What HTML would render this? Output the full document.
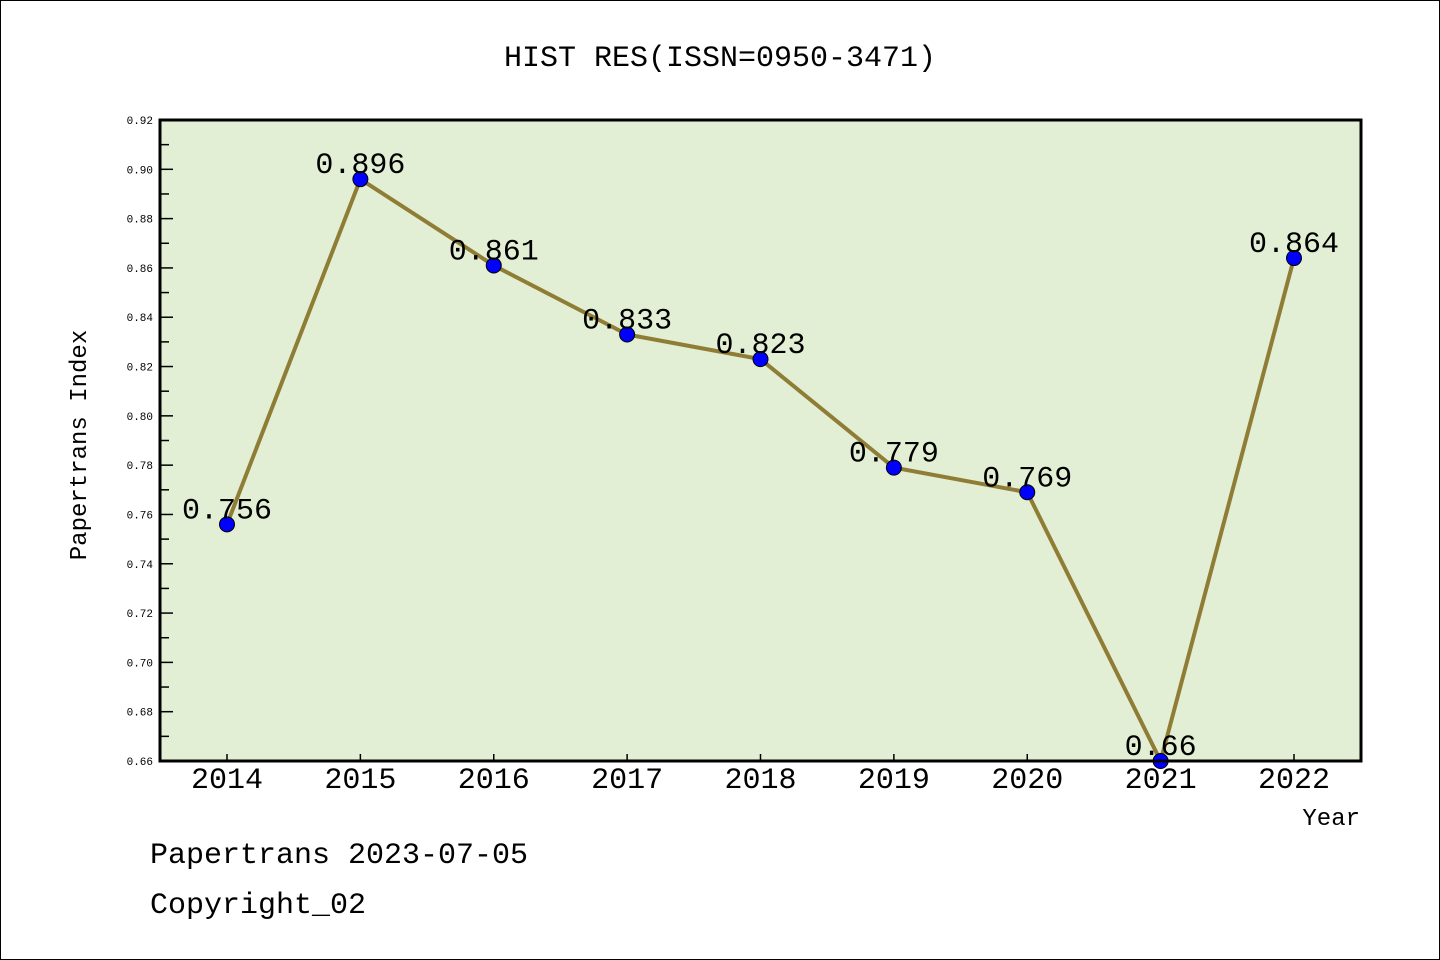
<!DOCTYPE html>
<html><head><meta charset="utf-8"><style>
body{margin:0;background:#fff}
svg{display:block}
text{font-family:"Liberation Mono","Noto Sans CJK SC",monospace}
</style></head><body>
<svg width="1440" height="960" xmlns="http://www.w3.org/2000/svg">
<rect x="0.5" y="0.5" width="1439" height="959" fill="#fff" stroke="#000"/>
<text x="720" y="66" font-size="30" text-anchor="middle">HIST RES(ISSN=0950-3471)</text>
<rect x="160" y="120" width="1201" height="641" fill="#e2efd5"/>
<g id="axes"></g>
<g id="marks"></g>
<text x="86" y="445" font-size="24" text-anchor="middle" transform="rotate(-90 86 445)">Papertrans Index</text>
<text x="1360" y="825" font-size="24" text-anchor="end">Year</text>
<text x="150" y="863" font-size="30">Papertrans 2023-07-05</text>
<text x="150" y="913" font-size="30">Copyright_02</text>
<rect x="160" y="120" width="1201" height="641" fill="none" stroke="#000" stroke-width="3"/>
</svg>
<script>
const years=[2014,2015,2016,2017,2018,2019,2020,2021,2022];
const values=[0.756,0.896,0.861,0.833,0.823,0.779,0.769,0.66,0.864];
const labels=["0.756","0.896","0.861","0.833","0.823","0.779","0.769","0.66","0.864"];
const yTicks=[0.66,0.68,0.70,0.72,0.74,0.76,0.78,0.80,0.82,0.84,0.86,0.88,0.90,0.92];
(function(){
const NS="http://www.w3.org/2000/svg";
const yMin=0.66,yMax=0.92,plotTop=120,plotBot=761,plotLeft=160;
const y=v=>plotBot-(v-yMin)/(yMax-yMin)*(plotBot-plotTop);
const x=yr=>227+(yr-2014)*(1294-227)/8;
function mk(t,a,p){const e=document.createElementNS(NS,t);for(const k in a)e.setAttribute(k,a[k]);p.appendChild(e);return e;}
const ax=document.getElementById('axes'),mg=document.getElementById('marks');
yTicks.forEach((v,i)=>{
 const l=mk('line',{x1:plotLeft,x2:plotLeft+13,y1:y(v),y2:y(v),stroke:'#000','stroke-width':1.5},ax);
 
 
 const t=mk('text',{x:153,y:y(v)+4,'font-size':11,'text-anchor':'end','font-family':'DejaVu Sans, sans-serif'},ax);t.textContent=v.toFixed(2);
 
 
 if(i<yTicks.length-1){const m=mk('line',{x1:plotLeft,x2:plotLeft+9,y1:y(v+0.01),y2:y(v+0.01),stroke:'#000','stroke-width':1.5},ax);
 
 }
});
years.forEach(yr=>{
 const l=mk('line',{x1:x(yr),x2:x(yr),y1:plotBot,y2:plotBot-7,stroke:'#000','stroke-width':1.5},ax);
 
 
 const t=mk('text',{x:x(yr),y:788,'font-size':30,'text-anchor':'middle','font-family':'Liberation Sans, sans-serif'},ax);t.textContent=yr;
 
 
});
const pl=mk('polyline',{points:years.map((yr,i)=>x(yr)+','+y(values[i])).join(' '),fill:'none',stroke:'#8f7d35','stroke-width':4},mg);


years.forEach((yr,i)=>{
 const c=mk('circle',{cx:x(yr),cy:y(values[i]),r:7.5,fill:'#0000ff',stroke:'#000','stroke-width':1},mg);
 
 
 const t=mk('text',{x:x(yr),y:y(values[i])-6,'font-size':30,'text-anchor':'middle'},mg);t.textContent=labels[i];
 
 
});
})();
</script>
</body></html>
